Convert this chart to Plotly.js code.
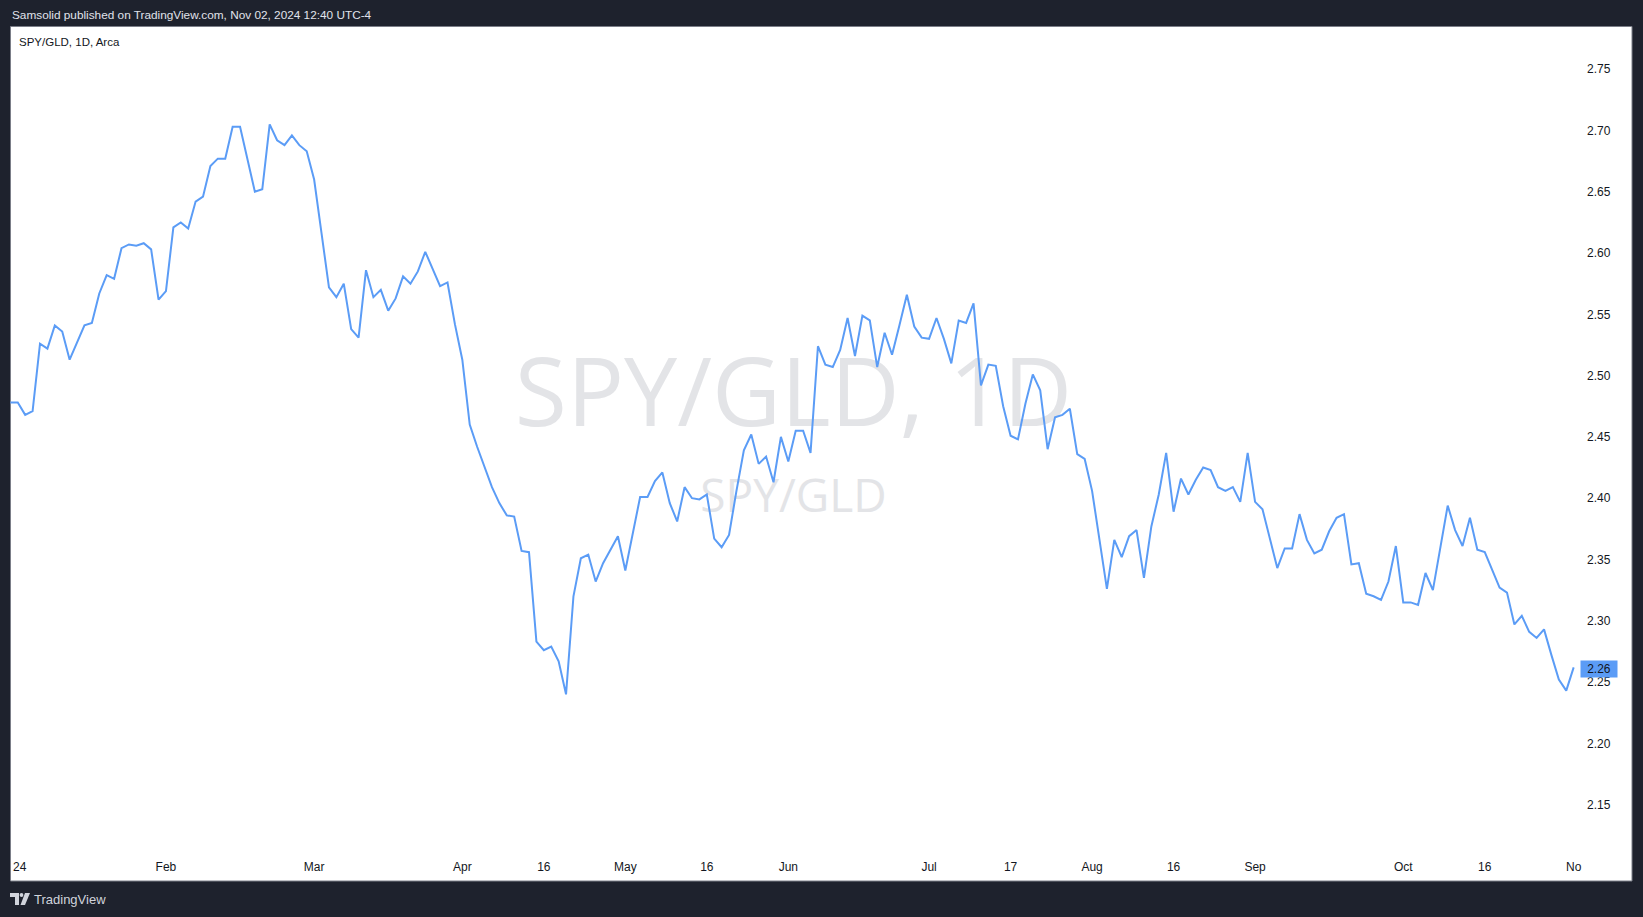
<!DOCTYPE html>
<html>
<head>
<meta charset="utf-8">
<script src="https://cdn.plot.ly/plotly-3.0.1.min.js"></script>
<style>
  html, body { margin: 0; padding: 0; background: #1e222d; overflow: hidden; }
  #chart { width: 1643px; height: 917px; }
</style>
</head>
<body>
<div id="chart"></div>
<script>
// ---- Data (daily close of SPY/GLD ratio, 2024-01-02 .. 2024-11-01) ----
const marketHolidays = ['2024-01-01','2024-01-15','2024-02-19','2024-03-29','2024-05-27','2024-06-19','2024-07-04','2024-09-02'];
const firstDay = '2024-01-02';
const lastDay = '2024-11-01';

const ratioJanFeb = [
  2.478, 2.478, 2.468, 2.471, 2.526, 2.522, 2.541, 2.536, 2.513, 2.527,
  2.541, 2.543, 2.567, 2.582, 2.579, 2.604, 2.607, 2.606, 2.608, 2.603,
  2.562, 2.569, 2.621, 2.625, 2.620, 2.642, 2.646, 2.671, 2.677, 2.677,
  2.703, 2.703, 2.676, 2.650, 2.652, 2.705, 2.692, 2.688, 2.696, 2.688,
  2.683
];
const ratioMarApr = [
  2.660, 2.616, 2.572, 2.564, 2.575, 2.538, 2.531, 2.586, 2.564, 2.570,
  2.553, 2.563, 2.581, 2.575, 2.585, 2.601, 2.587, 2.573, 2.576, 2.542,
  2.513, 2.460, 2.442, 2.426, 2.409, 2.396, 2.386, 2.385, 2.357, 2.356,
  2.283, 2.276, 2.279, 2.267, 2.240, 2.320, 2.351, 2.354, 2.332, 2.347,
  2.358, 2.369
];
const ratioMayJun = [
  2.341, 2.371, 2.401, 2.401, 2.414, 2.421, 2.396, 2.381, 2.409, 2.400,
  2.399, 2.403, 2.367, 2.360, 2.370, 2.406, 2.439, 2.452, 2.428, 2.434,
  2.413, 2.450, 2.430, 2.455, 2.455, 2.437, 2.524, 2.509, 2.507, 2.521,
  2.547, 2.516, 2.549, 2.545, 2.507, 2.535, 2.517, 2.541, 2.566, 2.540,
  2.531
];
const ratioJulAug = [
  2.530, 2.547, 2.530, 2.510, 2.545, 2.543, 2.559, 2.492, 2.509, 2.508,
  2.475, 2.451, 2.448, 2.477, 2.501, 2.488, 2.440, 2.466, 2.468, 2.473,
  2.436, 2.432, 2.406, 2.367, 2.326, 2.366, 2.352, 2.369, 2.374, 2.335,
  2.377, 2.403, 2.437, 2.389, 2.416, 2.403, 2.415, 2.425, 2.423, 2.409,
  2.406, 2.409, 2.397, 2.437
];
const ratioSepNov = [
  2.397, 2.391, 2.366, 2.343, 2.359, 2.359, 2.387, 2.366, 2.355, 2.358,
  2.373, 2.384, 2.387, 2.346, 2.347, 2.322, 2.320, 2.317, 2.332, 2.361,
  2.315, 2.315, 2.313, 2.339, 2.325, 2.361, 2.394, 2.374, 2.361, 2.384,
  2.358, 2.356, 2.342, 2.327, 2.323, 2.297, 2.304, 2.291, 2.286, 2.293,
  2.272, 2.252, 2.243, 2.262
];

const timeTickDates = ['2024-02-01','2024-03-01','2024-04-01','2024-04-16','2024-05-01','2024-05-16','2024-06-03','2024-07-01','2024-07-17','2024-08-01','2024-08-16','2024-09-03','2024-10-01','2024-10-16','2024-11-01'];
const timeTickLabels = ['Feb','Mar','Apr','16','May','16','Jun','Jul','17','Aug','16','Sep','Oct','16','No'];
const priceTicks = [2.15, 2.20, 2.25, 2.30, 2.35, 2.40, 2.45, 2.50, 2.55, 2.60, 2.65, 2.70, 2.75];

const headerText = 'Samsolid published on TradingView.com, Nov 02, 2024 12:40 UTC-4';
const legendText = 'SPY/GLD, 1D, Arca';
const watermarkTexts = ['SPY/GLD, 1D', 'SPY/GLD'];
const yearLabel = '24';

// ---- build trading-day categories ----
function tradingDays(start, end, holidays) {
  const out = [];
  const d = new Date(start + 'T12:00:00Z');
  const e = new Date(end + 'T12:00:00Z');
  while (d <= e) {
    const wd = d.getUTCDay();
    const s = d.toISOString().slice(0, 10);
    if (wd !== 0 && wd !== 6 && holidays.indexOf(s) === -1) out.push(s);
    d.setUTCDate(d.getUTCDate() + 1);
  }
  return out;
}
const dates = tradingDays(firstDay, lastDay, marketHolidays);
const ratio = [].concat(ratioJanFeb, ratioMarApr, ratioMayJun, ratioJulAug, ratioSepNov);
const lastVal = ratio[ratio.length - 1];

// ---- geometry helpers (pixel -> paper) ----
const W = 1643, H = 917;
const PL = 10, PR = 1577, PT = 27, PB = 857;
const X = px => (px - PL) / (PR - PL);
const Y = py => (PB - py) / (PB - PT);

const LINE = '#5b9cf6';
const TXT = '#131722';
const FONT = 'Liberation Sans, Arial, sans-serif';
const WM = '#e3e4e7';

const shapes = [
  // white chart panel with thin border
  {type: 'rect', xref: 'paper', yref: 'paper', x0: X(10.5), x1: X(1632), y0: Y(881), y1: Y(26.5),
   fillcolor: '#ffffff', line: {color: '#7b7e88', width: 1}, layer: 'below'},
  // TradingView logo: T bar, stem, dot, slanted stroke
  {type: 'path', xref: 'paper', yref: 'paper', layer: 'above',
   path: `M${X(10)},${Y(893)} L${X(19)},${Y(893)} L${X(19)},${Y(905)} L${X(15)},${Y(905)} L${X(15)},${Y(897)} L${X(10)},${Y(897)} Z`,
   fillcolor: '#d1d4dc', line: {width: 0}},
  {type: 'circle', xref: 'paper', yref: 'paper', layer: 'above',
   x0: X(19.6), x1: X(23.4), y0: Y(897), y1: Y(893), fillcolor: '#d1d4dc', line: {width: 0}},
  {type: 'path', xref: 'paper', yref: 'paper', layer: 'above',
   path: `M${X(25)},${Y(893)} L${X(30)},${Y(893)} L${X(25)},${Y(905)} L${X(20.5)},${Y(905)} Z`,
   fillcolor: '#d1d4dc', line: {width: 0}}
];

const annotations = [
  {xref: 'paper', yref: 'paper', x: X(10), y: Y(14.5), xanchor: 'left', yanchor: 'middle', showarrow: false,
   text: headerText, font: {family: FONT, size: 11.8, color: '#e0e3eb'}},
  {xref: 'paper', yref: 'paper', x: X(17), y: Y(41.5), xanchor: 'left', yanchor: 'middle', showarrow: false,
   text: legendText, font: {family: FONT, size: 11.5, color: TXT}},
  {xref: 'paper', yref: 'paper', x: X(10.5), y: Y(867.5), xanchor: 'left', yanchor: 'middle', showarrow: false,
   text: yearLabel, font: {family: FONT, size: 12, color: TXT}},
  {xref: 'paper', yref: 'y2', x: X(1580), y: lastVal, xanchor: 'left', yanchor: 'middle', showarrow: false,
   yshift: -2, text: lastVal.toFixed(2), bgcolor: LINE, borderpad: 1, width: 34, align: 'center',
   font: {family: FONT, size: 12, color: TXT}},
  {xref: 'paper', yref: 'paper', x: X(32), y: Y(899), xanchor: 'left', yanchor: 'middle', showarrow: false,
   text: 'TradingView', font: {family: FONT, size: 13, color: '#d1d4dc'}}
];

// watermark: text on a hidden 0..1 helper axis, drawn beneath the price line
const watermark = {
  type: 'scatter', mode: 'text', xaxis: 'x', yaxis: 'y',
  x: [0.5, 0.5], y: [Y(402.5), Y(500.5)],
  text: watermarkTexts, textposition: 'middle center',
  textfont: {family: 'Open Sans, sans-serif', size: [95, 46], color: WM},
  hoverinfo: 'skip', cliponaxis: false
};

const priceLine = {
  type: 'scatter', mode: 'lines', xaxis: 'x2', yaxis: 'y2', x: dates, y: ratio,
  line: {color: LINE, width: 2, shape: 'linear'},
  hoverinfo: 'skip'
};

const layout = {
  width: W, height: H,
  margin: {l: PL, r: W - PR, t: PT, b: H - PB, pad: 0},
  paper_bgcolor: '#1e222d',
  plot_bgcolor: 'rgba(0,0,0,0)',
  showlegend: false,
  xaxis: {range: [0, 1], visible: false, fixedrange: true},
  yaxis: {range: [0, 1], visible: false, fixedrange: true},
  xaxis2: {
    overlaying: 'x', anchor: 'y2', side: 'bottom',
    type: 'category', range: [-0.05, dates.length - 0.55],
    tickmode: 'array', tickvals: timeTickDates, ticktext: timeTickLabels,
    showgrid: false, zeroline: false, showline: false, ticks: '',
    ticklabelstandoff: 1,
    tickfont: {family: FONT, size: 12, color: TXT}, fixedrange: true
  },
  yaxis2: {
    overlaying: 'y', anchor: 'x2', side: 'right', range: [2.1073, 2.7844],
    tickmode: 'array', tickvals: priceTicks, tickformat: '.2f',
    showgrid: false, zeroline: false, showline: false, ticks: '',
    ticklabelstandoff: 9,
    tickfont: {family: FONT, size: 12, color: TXT}, fixedrange: true
  },
  shapes: shapes,
  annotations: annotations
};

Plotly.newPlot('chart', [watermark, priceLine], layout, {displayModeBar: false, staticPlot: true});
</script>
</body>
</html>
